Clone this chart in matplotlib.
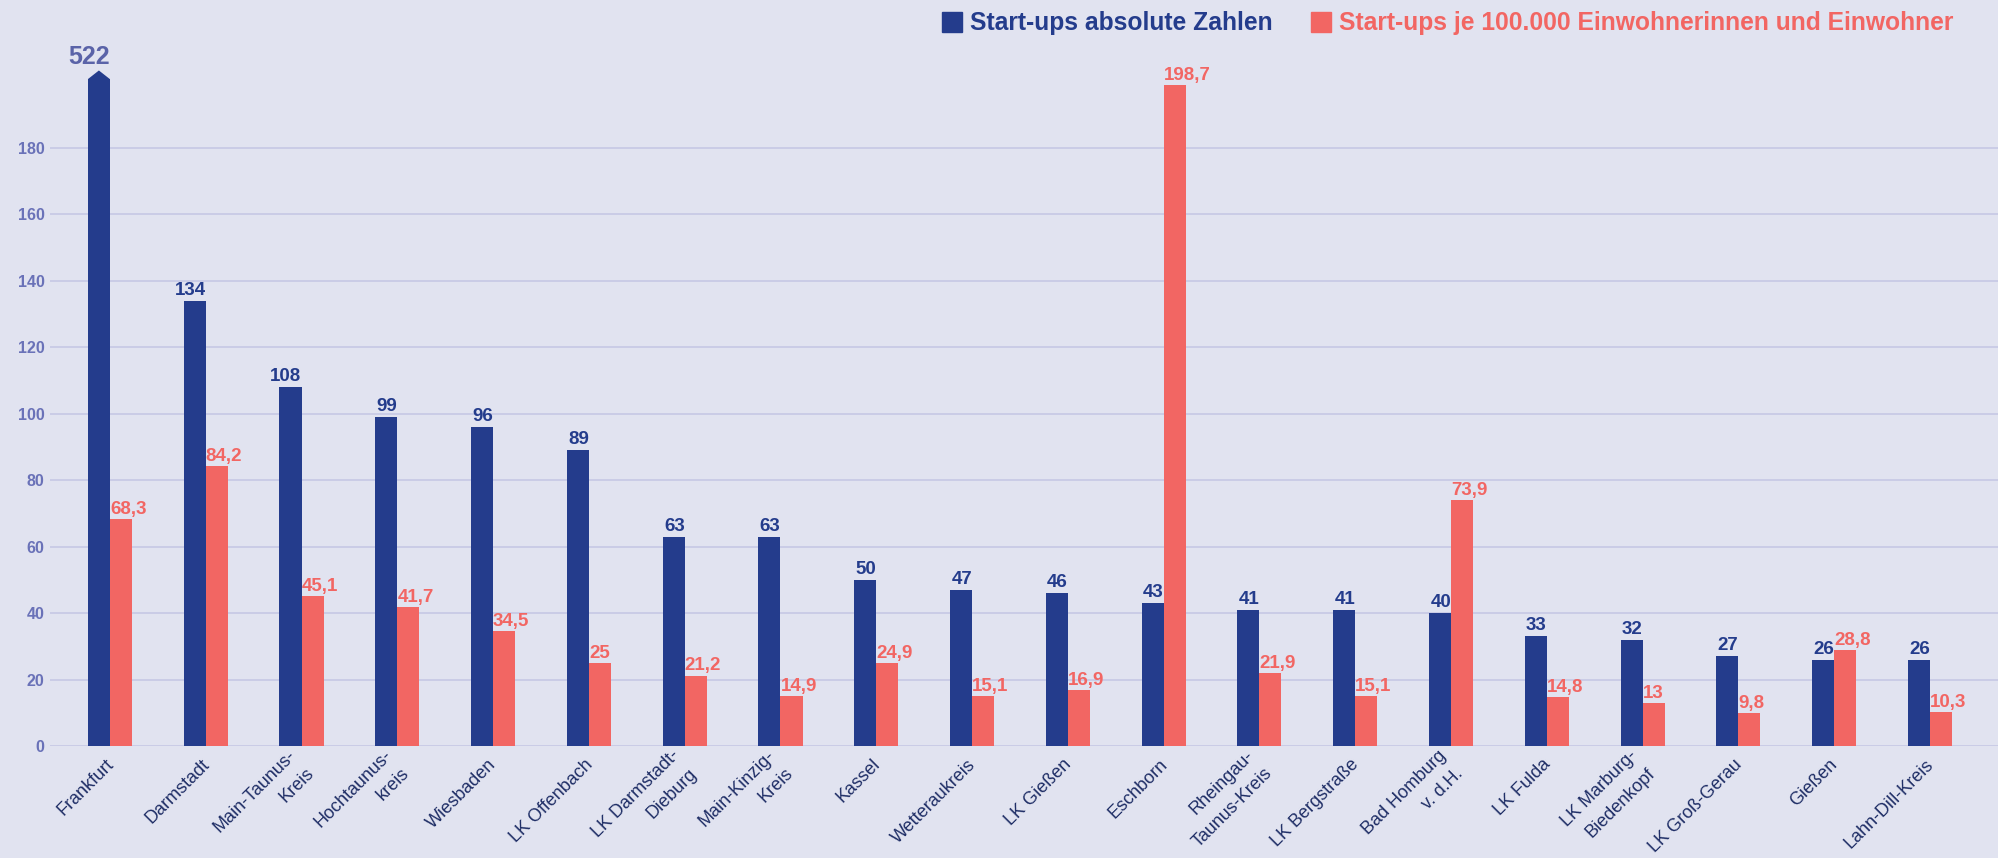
import matplotlib
matplotlib.use("Agg")
import matplotlib.pyplot as plt
from matplotlib.patches import Polygon, Rectangle
import numpy as np

regions = ["Frankfurt", "Darmstadt", "Main-Taunus-\nKreis", "Hochtaunus-\nkreis", "Wiesbaden",
           "LK Offenbach", "LK Darmstadt-\nDieburg", "Main-Kinzig-\nKreis", "Kassel", "Wetteraukreis",
           "LK Gießen", "Eschborn", "Rheingau-\nTaunus-Kreis", "LK Bergstraße", "Bad Homburg\nv. d.H.",
           "LK Fulda", "LK Marburg-\nBiedenkopf", "LK Groß-Gerau", "Gießen", "Lahn-Dill-Kreis"]
absolute = [522, 134, 108, 99, 96, 89, 63, 63, 50, 47, 46, 43, 41, 41, 40, 33, 32, 27, 26, 26]
per_100k = [68.3, 84.2, 45.1, 41.7, 34.5, 25, 21.2, 14.9, 24.9, 15.1, 16.9, 198.7, 21.9, 15.1,
            73.9, 14.8, 13, 9.8, 28.8, 10.3]
yticks = [0, 20, 40, 60, 80, 100, 120, 140, 160, 180]
legend_labels = ["Start-ups absolute Zahlen", "Start-ups je 100.000 Einwohnerinnen und Einwohner"]

BG = "#e1e3f0"
BLUE = "#243c8c"
RED = "#f26663"
GRID = "#c8cae6"
TICK = "#6a72b8"
XLAB = "#1f2e66"
CAP = 200.6  # axis cap for the out-of-scale bar

plt.rcParams['font.family'] = ['Liberation Sans', 'DejaVu Sans']

fig = plt.figure(figsize=(19.98, 8.58), dpi=100, facecolor=BG)
ax = fig.add_axes([0.025, 0.1305, 0.975, 0.8695], facecolor=BG)

x = np.arange(len(regions))
w = 0.23
abs_arr = np.array(absolute, dtype=float)
shown = np.minimum(abs_arr, CAP)
ax.bar(x - w / 2, shown, width=w, color=BLUE, zorder=3)
ax.bar(x + w / 2, per_100k, width=w, color=RED, zorder=3)

tip = 2.6
for i, v in enumerate(abs_arr):
    if v > CAP:
        l, r = x[i] - w, x[i]
        ax.add_patch(Polygon([[l, CAP], [(l + r) / 2, CAP + tip], [r, CAP]], closed=True,
                             color=BLUE, zorder=3, lw=0))
        ax.annotate(f"{int(v)}", (r, CAP + tip), xytext=(0, 4.6), textcoords="offset points",
                    ha="right", va="baseline", fontsize=18, fontweight="bold", color="#5a63a8")
    else:
        ax.annotate(f"{int(v)}", (x[i], v), xytext=(0, 4.3), textcoords="offset points",
                    ha="right", va="baseline", fontsize=13.5, fontweight="bold", color=BLUE)

for i, v in enumerate(per_100k):
    s = (f"{v:g}").replace(".", ",")
    ax.annotate(s, (x[i], v), xytext=(0, 3.7), textcoords="offset points",
                ha="left", va="baseline", fontsize=13.5, fontweight="bold", color=RED)

ax.set_ylim(0, 224.4)
ax.set_xlim(-0.626, 19.71)
ax.set_yticks(yticks)
ax.set_yticklabels([str(t) for t in yticks], fontsize=11.5, fontweight="bold", color=TICK)
ax.tick_params(axis="y", length=0, pad=4)
ax.grid(axis="y", color=GRID, lw=1.3, zorder=0)
ax.set_xticks(x + 0.01)
ax.set_xticklabels(regions, rotation=45, ha="right", va="center", rotation_mode="anchor",
                   fontsize=13, color=XLAB, linespacing=1.6)
ax.tick_params(axis="x", length=0, pad=11.5)
for sp in ax.spines.values():
    sp.set_visible(False)

# legend
W, H = 1998, 858
def fx(px):
    return px / W
def fy(py):
    return 1 - py / H
for (sx, tx), lab, col in zip([(942, 970), (1311, 1339)], legend_labels, [BLUE, RED]):
    fig.patches.append(Rectangle((fx(sx), fy(32)), fx(20), 20 / H, transform=fig.transFigure,
                                 color=col, figure=fig))
    fig.text(fx(tx), fy(30), lab, fontsize=17.7, fontweight="bold", color=col,
             ha="left", va="baseline")

fig.savefig("out.png", dpi=100, facecolor=BG)
